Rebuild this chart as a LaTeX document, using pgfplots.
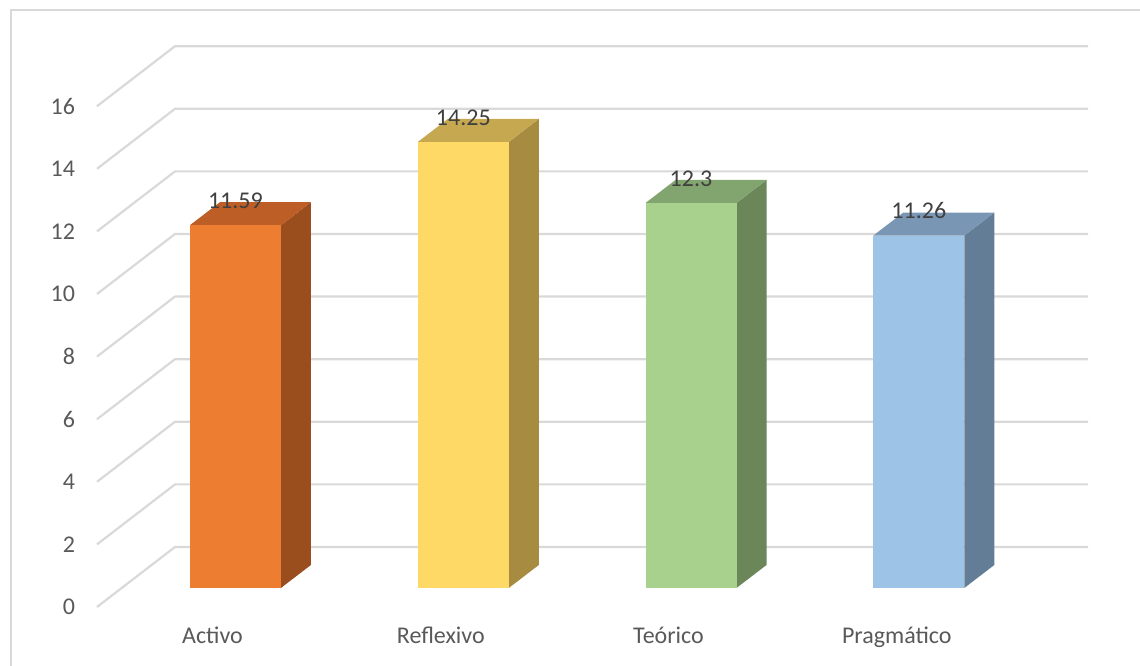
\documentclass[border=0pt]{standalone}
\usepackage{fontspec}
\setmainfont{Carlito}
\usepackage{pgfplots}
\pgfplotsset{compat=1.18}

% wall / grid
\definecolor{gridc}{HTML}{D9D9D9}
\definecolor{ticktext}{HTML}{595959}
\definecolor{valtext}{HTML}{404040}
% bar faces: front, side, top
\definecolor{actF}{HTML}{ED7D31}\definecolor{actS}{HTML}{9A4D1D}\definecolor{actT}{HTML}{BC5E25}
\definecolor{refF}{HTML}{FFD966}\definecolor{refS}{HTML}{A68B40}\definecolor{refT}{HTML}{C5A84F}
\definecolor{teoF}{HTML}{A9D18E}\definecolor{teoS}{HTML}{6B875A}\definecolor{teoT}{HTML}{82A46E}
\definecolor{praF}{HTML}{9DC3E6}\definecolor{praS}{HTML}{637D96}\definecolor{praT}{HTML}{7996B5}

\begin{document}
\begin{tikzpicture}[font=\fontsize{12}{14}\selectfont]
\begin{axis}[
  scale only axis, width=570pt, height=333pt,
  xmin=0, xmax=1140, ymin=-2.492, ymax=18.786,
  hide axis,
  /pgf/number format/assume math mode=true,
  grid line/.style={draw=gridc, line width=1.1pt},
]
\path (axis cs:0,-2.492) rectangle (axis cs:1140,18.786);

% chart border (left and top visible)
\addplot[draw=gridc, line width=0.8pt] coordinates {(11,-2.6) (11,18.466) (1150,18.466)};

% side wall diagonals and back wall lines, one per tick (0,2,...,16)
\addplot[grid line] coordinates {(97,-0.607) (175,1.310) (1088,1.310)};
\addplot[grid line] coordinates {(97,1.393) (175,3.310) (1088,3.310)};
\addplot[grid line] coordinates {(97,3.393) (175,5.310) (1088,5.310)};
\addplot[grid line] coordinates {(97,5.393) (175,7.310) (1088,7.310)};
\addplot[grid line] coordinates {(97,7.393) (175,9.310) (1088,9.310)};
\addplot[grid line] coordinates {(97,9.393) (175,11.310) (1088,11.310)};
\addplot[grid line] coordinates {(97,11.393) (175,13.310) (1088,13.310)};
\addplot[grid line] coordinates {(97,13.393) (175,15.310) (1088,15.310)};
\addplot[grid line] coordinates {(97,15.393) (175,17.310) (1088,17.310)};

% y tick labels at the front ends of the diagonals
\addplot[draw=none, nodes near coords, point meta=explicit symbolic,
  nodes near coords style={anchor=east, color=ticktext}]
  coordinates {(82,-0.607)[0] (82,1.393)[2] (82,3.393)[4] (82,5.393)[6]
    (82,7.393)[8] (82,9.393)[10] (82,11.393)[12] (82,13.393)[14] (82,15.393)[16]};

% category labels
\addplot[draw=none, nodes near coords, point meta=explicit symbolic,
  nodes near coords style={anchor=base, color=ticktext}]
  coordinates {(212.5,-1.789)[Activo] (440.8,-1.789)[Reflexivo]
    (668.5,-1.789)[Teórico] (896.8,-1.789)[Pragmático]};

% --- bars: side, top, then front with value label
% Activo 11.59
\addplot[fill=actS, draw=none] coordinates {(280.9,0) (310.9,0.735) (310.9,12.325) (280.9,11.59)} -- cycle;
\addplot[fill=actT, draw=none] coordinates {(189.9,11.59) (280.9,11.59) (310.9,12.325) (219.9,12.325)} -- cycle;
\addplot[ybar, bar width=91, bar shift=0pt, fill=actF, draw=none,
  nodes near coords, nodes near coords style={anchor=base, yshift=8.3pt, color=valtext}]
  coordinates {(235.4,11.59)};
% Reflexivo 14.25
\addplot[fill=refS, draw=none] coordinates {(508.8,0) (538.8,0.735) (538.8,14.985) (508.8,14.25)} -- cycle;
\addplot[fill=refT, draw=none] coordinates {(417.8,14.25) (508.8,14.25) (538.8,14.985) (447.8,14.985)} -- cycle;
\addplot[ybar, bar width=91, bar shift=0pt, fill=refF, draw=none,
  nodes near coords, nodes near coords style={anchor=base, yshift=8.3pt, color=valtext}]
  coordinates {(463.3,14.25)};
% Teórico 12.3
\addplot[fill=teoS, draw=none] coordinates {(736.5,0) (766.5,0.735) (766.5,13.035) (736.5,12.3)} -- cycle;
\addplot[fill=teoT, draw=none] coordinates {(645.5,12.3) (736.5,12.3) (766.5,13.035) (675.5,13.035)} -- cycle;
\addplot[ybar, bar width=91, bar shift=0pt, fill=teoF, draw=none,
  nodes near coords, nodes near coords style={anchor=base, yshift=8.3pt, color=valtext}]
  coordinates {(691.0,12.3)};
% Pragmático 11.26
\addplot[fill=praS, draw=none] coordinates {(964.3,0) (994.3,0.735) (994.3,11.995) (964.3,11.26)} -- cycle;
\addplot[fill=praT, draw=none] coordinates {(873.3,11.26) (964.3,11.26) (994.3,11.995) (903.3,11.995)} -- cycle;
\addplot[ybar, bar width=91, bar shift=0pt, fill=praF, draw=none,
  nodes near coords, nodes near coords style={anchor=base, yshift=8.3pt, color=valtext}]
  coordinates {(918.8,11.26)};
\end{axis}
\end{tikzpicture}
\end{document}
